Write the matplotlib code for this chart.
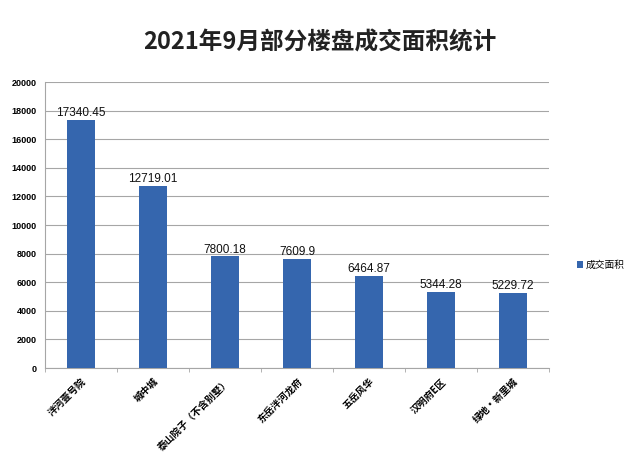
import matplotlib
matplotlib.use("Agg")
import matplotlib.pyplot as plt

plt.rcParams['font.family'] = ['Noto Sans CJK SC', 'DejaVu Sans']

categories = ["泮河壹号院", "城中城", "泰山院子（不含别墅）", "东岳泮河龙府", "五岳风华", "汉明府E区", "绿地·新里城"]
values = [17340.45, 12719.01, 7800.18, 7609.9, 6464.87, 5344.28, 5229.72]
value_labels = ["17340.45", "12719.01", "7800.18", "7609.9", "6464.87", "5344.28", "5229.72"]
yticks = list(range(0, 20001, 2000))
title = "2021年9月部分楼盘成交面积统计"
series_name = "成交面积"

bar_color = "#3566AE"

fig = plt.figure(figsize=(6.4, 4.71), dpi=100)
ax = fig.add_axes([45/640, 1-368/471, (549-45)/640, (368-82)/471])

x = list(range(len(categories)))
bars = ax.bar(x, values, width=0.39, color=bar_color, label=series_name, zorder=3)

for xi, v, lab in zip(x, values, value_labels):
    ax.text(xi, v + 60, lab, ha='center', va='bottom', fontsize=8.5,
            family=['Liberation Sans', 'DejaVu Sans'], color='#111111', zorder=4)

ax.set_xlim(-0.5, len(categories) - 0.5)
ax.set_ylim(0, 20000)
ax.set_yticks(yticks)
ax.set_yticklabels([str(t) for t in yticks], fontsize=6.5, fontweight='bold',
                   family=['Liberation Sans', 'DejaVu Sans'])
ax.yaxis.grid(True, color='#a6a6a6', linewidth=0.8, zorder=0)
ax.tick_params(axis='y', length=0, pad=6)

ax.set_xticks(x)
ax.set_xticklabels(categories, rotation=45, ha='right', va='top', rotation_mode='anchor',
                   fontsize=7, fontweight='bold')
ax.tick_params(axis='x', length=0, pad=6)
# minor ticks between categories
ax.set_xticks([i + 0.5 for i in range(-1, len(categories))], minor=True)
ax.tick_params(axis='x', which='minor', length=3, color='#a6a6a6')

for s in ['top', 'right']:
    ax.spines[s].set_visible(False)
ax.spines['left'].set_color('#a6a6a6')
ax.spines['bottom'].set_color('#a6a6a6')

fig.text(0.5, 1 - 42/471, title, ha='center', va='center', fontsize=17,
         fontweight='bold', color='#222222')

leg = fig.legend(handles=[bars], labels=[series_name], loc='center left',
                 bbox_to_anchor=(568/640, 1 - 265/471), frameon=False,
                 fontsize=7, handlelength=0.6, handleheight=0.6, handletextpad=0.3)

fig.savefig("out.png", dpi=100, facecolor='white')
